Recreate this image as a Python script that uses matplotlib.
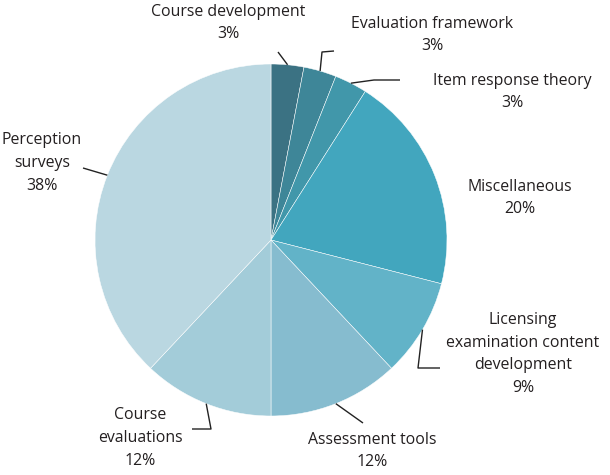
import numpy as np
import matplotlib
matplotlib.use('Agg')
import matplotlib.pyplot as plt

plt.rcParams['font.family'] = ['Open Sans', 'DejaVu Sans']

# slices, clockwise from 12 o'clock
categories = ['Course development', 'Evaluation framework', 'Item response theory',
              'Miscellaneous', 'Licensing\nexamination content\ndevelopment',
              'Assessment tools', 'Course\nevaluations', 'Perception\nsurveys']
shares = [3, 3, 3, 20, 9, 12, 12, 38]
colors = ['#3b7283', '#3e8698', '#4197aa', '#42a6be', '#62b3c8',
          '#86bccf', '#a3ccd9', '#bad7e1']

W, H = 610, 475
cx, cy, R = 271, H - 240, 176

fig = plt.figure(figsize=(W / 100, H / 100), dpi=100)
ax = fig.add_axes([0, 0, 1, 1])

wedges, _ = ax.pie(shares, colors=colors, startangle=90, counterclock=False,
                   center=(cx, cy), radius=R, frame=True,
                   wedgeprops=dict(edgecolor='white', linewidth=0.35))
ax.set_xlim(0, W)
ax.set_ylim(0, H)
ax.set_aspect('equal')
ax.axis('off')

# label layout: text anchor (x, y from top), leader path points after the wedge edge
layout = [
    dict(xy=(228, 23), lines=[(278, 52)]),
    dict(xy=(432, 35), lines=[(322, 52), (334, 51)]),
    dict(xy=(512, 92), lines=[(374, 80), (400, 80)]),
    dict(xy=(520, 198), lines=None),
    dict(xy=(523, 354), lines=[(418, 368), (440, 368)]),
    dict(xy=(372, 451), lines=[(363, 423)]),
    dict(xy=(140, 438), lines=[(211, 429), (192, 429)]),
    dict(xy=(42, 163), lines=[(83, 168)]),
]

for w, cat, val, lay in zip(wedges, categories, shares, layout):
    mid = np.deg2rad((w.theta1 + w.theta2) / 2)
    if lay['lines']:
        pts = [(cx + R * np.cos(mid), cy + R * np.sin(mid))]
        pts += [(x, H - y) for x, y in lay['lines']]
        xs, ys = zip(*pts)
        ax.plot(xs, ys, color='#222222', lw=1.0, solid_capstyle='butt')
    tx, ty = lay['xy']
    ax.text(tx, H - ty, f'{cat}\n{val}%', ha='center', va='center',
            fontsize=11.4, color='#231f20', linespacing=1.58)

fig.savefig('out.png', dpi=100)
